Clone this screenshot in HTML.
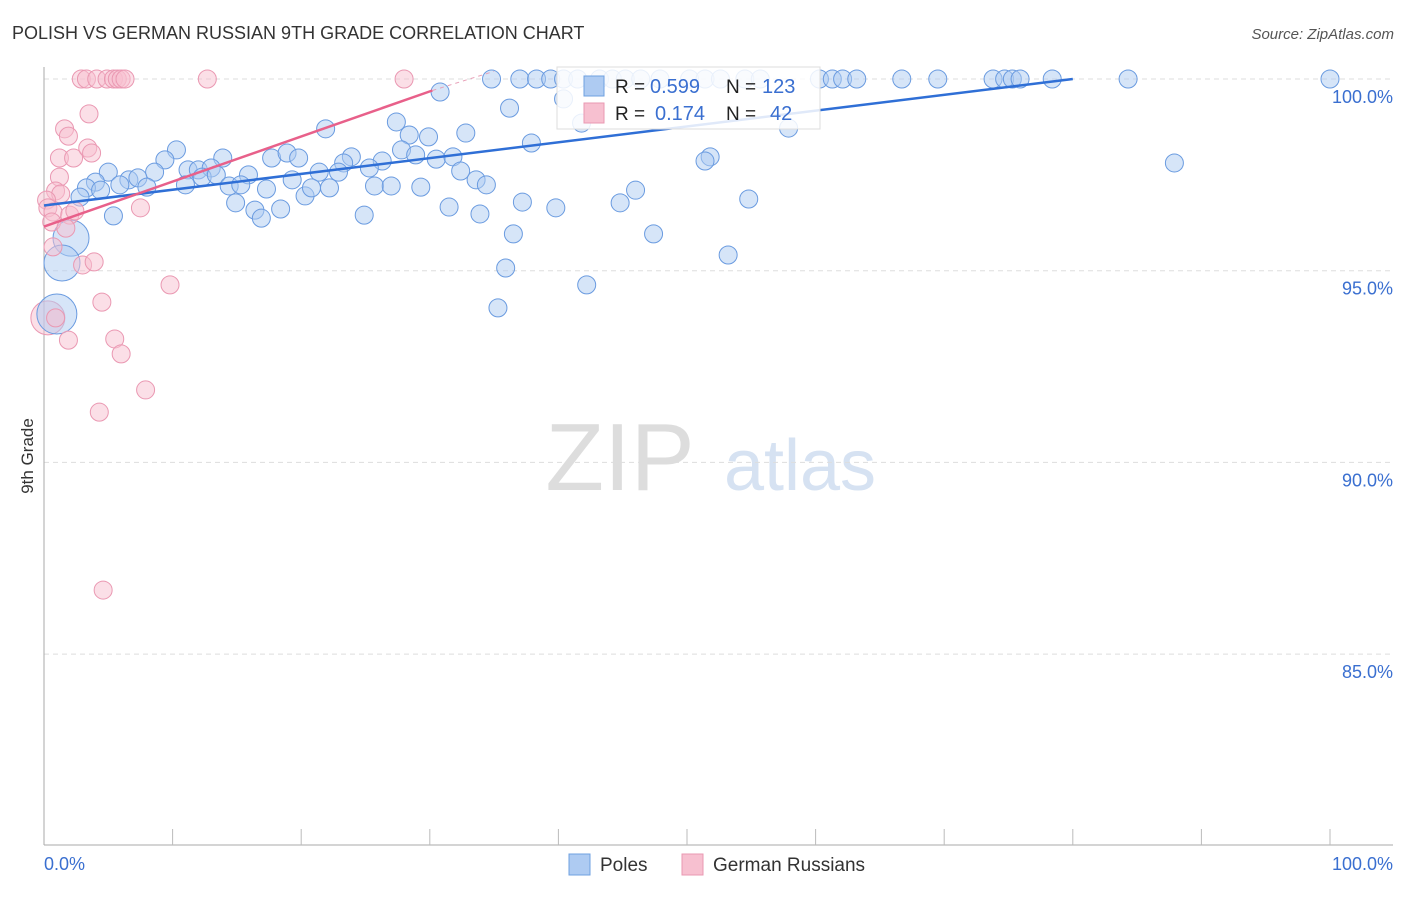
<!DOCTYPE html>
<html><head><meta charset="utf-8"><style>
body{margin:0;background:#fff;font-family:"Liberation Sans",sans-serif;}
svg text{font-family:"Liberation Sans",sans-serif;}
</style></head><body>
<svg id="chart" width="1406" height="892">
<text x="12" y="39" font-size="18" fill="#333">POLISH VS GERMAN RUSSIAN 9TH GRADE CORRELATION CHART</text>
<text x="1394" y="39" font-size="15" fill="#555" text-anchor="end" font-style="italic">Source: ZipAtlas.com</text>
<text x="33" y="456" font-size="17" fill="#333" transform="rotate(-90 33 456)" text-anchor="middle">9th Grade</text>
<text x="620" y="490" font-size="96" fill="#ddd" font-family="Liberation Serif" text-anchor="middle">ZIP</text>
<text x="800" y="490" font-size="72" fill="#d6e2f2" text-anchor="middle">atlas</text>
<g id="grid"></g><g id="pts"></g><g id="trend"></g>
<g>
<rect x="557" y="67" width="263" height="62" fill="#fff" fill-opacity="0.85" stroke="#ddd"/>
<rect x="584" y="76" width="20" height="20" fill="#aecbf2" stroke="#6fa0e0"/>
<rect x="584" y="103" width="20" height="20" fill="#f7c0d0" stroke="#ea98b2"/>
<text x="615" y="93" font-size="19" fill="#222">R =</text>
<text x="650" y="93" font-size="20" fill="#3a6fd0">0.599</text>
<text x="726" y="93" font-size="19" fill="#222">N =</text>
<text x="762" y="93" font-size="20" fill="#3a6fd0">123</text>
<text x="615" y="120" font-size="19" fill="#222">R =</text>
<text x="655" y="120" font-size="20" fill="#3a6fd0">0.174</text>
<text x="726" y="120" font-size="19" fill="#222">N =</text>
<text x="770" y="120" font-size="20" fill="#3a6fd0">42</text>
</g>
<g>
<rect x="569" y="854" width="21" height="21" fill="#aecbf2" stroke="#6fa0e0"/>
<text x="600" y="871" font-size="19" fill="#333">Poles</text>
<rect x="682" y="854" width="21" height="21" fill="#f7c0d0" stroke="#ea98b2"/>
<text x="713" y="871" font-size="19" fill="#333">German Russians</text>
</g>
</svg>
<script>
const yTicks=[100,95,90,85];
const xLabels=["0.0%","100.0%"];
const bluePts=[[34.8,100],[37.0,100],[38.3,100],[39.4,100],[40.4,100],[41.5,100],[43.2,100],[44.2,100],[45.2,100],[46.4,100],[47.9,100],[50.2,100],[51.4,100],[52.6,100],[54.5,100],[55.7,100],[60.3,100],[61.3,100],[62.1,100],[63.2,100],[66.7,100],[69.5,100],[73.8,100],[74.7,100],[75.3,100],[75.9,100],[78.4,100],[84.3,100],[100,100],
[30.8,99.66],[40.4,99.48],[36.2,99.24],[27.4,98.88],[21.9,98.70],[28.4,98.54],[29.9,98.49],[32.8,98.59],[37.9,98.33],[10.3,98.15],[27.8,98.15],[9.4,97.89],[13.9,97.94],[17.7,97.94],[18.9,98.07],[19.8,97.94],[23.9,97.97],[23.3,97.81],[26.3,97.86],[28.9,98.02],[30.5,97.91],[31.8,97.97],[51.8,97.97],[51.4,97.86],[57.9,98.72],[87.9,97.81],[41.8,98.85],
[8.6,97.57],[11.2,97.63],[12.0,97.63],[13.0,97.68],[12.3,97.44],[13.4,97.50],[15.9,97.50],[21.4,97.57],[22.9,97.57],[25.3,97.68],[32.4,97.60],[33.6,97.37],[34.4,97.24],[5.0,97.57],[6.6,97.37],[7.3,97.42],[4.0,97.31],[3.3,97.16],[4.4,97.10],[5.9,97.24],[8.0,97.18],[11.0,97.24],[14.4,97.21],[15.3,97.24],[17.3,97.13],[19.3,97.37],[20.3,96.95],[20.8,97.16],[22.2,97.16],[25.7,97.21],[27.0,97.21],[29.3,97.18],[46.0,97.10],[44.8,96.77],[54.8,96.87],[14.9,96.77],[16.4,96.58],[16.9,96.37],[18.4,96.61],[24.9,96.45],[31.5,96.66],[33.9,96.48],[37.2,96.79],[39.8,96.64],[36.5,95.96],[47.4,95.96],[5.4,96.43],[2.8,96.92],[35.9,95.07],[42.2,94.63],[53.2,95.41],[35.3,94.03]];
const blueBig=[[2.1,95.85,18],[1.4,95.20,18],[1.0,93.87,20]];
const pinkPts=[[2.9,100],[3.3,100],[4.1,100],[4.9,100],[5.4,100],[5.7,100],[6.0,100],[6.3,100],[12.7,100],[28.0,100],[3.5,99.09],[1.6,98.70],[1.9,98.51],[1.2,97.94],[2.3,97.94],[3.4,98.20],[3.7,98.07],[1.2,97.44],[0.9,97.08],[1.3,97.00],[0.2,96.84],[0.3,96.64],[0.7,96.53],[0.6,96.27],[2.0,96.45],[2.4,96.56],[7.5,96.64],[1.7,96.11],[0.7,95.62],[3.0,95.15],[3.9,95.23],[9.8,94.63],[4.5,94.18],[0.9,93.77],[1.9,93.19],[5.5,93.22],[6.0,92.83],[7.9,91.89],[4.3,91.31],[4.6,86.67]];
const pinkBig=[[0.3,93.77,17]];
const blueTrend=[[0,96.7],[80,100]];
const pinkTrend=[[0,96.15],[30.2,99.7]];
const pinkDash=[[30.2,99.7],[35,100.2]];
const NS="http://www.w3.org/2000/svg";
const X=v=>44+v*12.86, Y=v=>79+(100-v)*38.34;
function mk(tag,attrs,parent){const e=document.createElementNS(NS,tag);for(const k in attrs)e.setAttribute(k,attrs[k]);document.getElementById(parent).appendChild(e);return e;}
yTicks.forEach(t=>{
 const l=mk('line',{x1:44,x2:1393,y1:Y(t),y2:Y(t),stroke:'#ddd','stroke-dasharray':'5,4'},'grid');
 
 
 const tx=mk('text',{x:1393,y:Y(t)+24,'text-anchor':'end','font-size':18,fill:'#3a6fd0'},'grid');
 tx.textContent=t.toFixed(1)+'%';
 
 
});
let ax=mk('line',{x1:44,x2:44,y1:67,y2:845,stroke:'#aaa'},'grid');


let bx=mk('line',{x1:44,x2:1393,y1:845,y2:845,stroke:'#aaa'},'grid');


for(let i=1;i<=10;i++){const t=mk('line',{x1:X(i*10),x2:X(i*10),y1:829,y2:845,stroke:'#bbb'},'grid');
 
 }
[[0,'start',xLabels[0]],[100,'end',xLabels[1]]].forEach(([v,a,s])=>{const t=mk('text',{x:v===0?44:1393,y:870,'text-anchor':a,'font-size':18,fill:'#3a6fd0'},'grid');t.textContent=s;
 
 });
function dot(p,r,fill,stroke,name){const c=mk('circle',{cx:X(p[0]),cy:Y(p[1]),r:r,fill:fill,'fill-opacity':0.5,stroke:stroke,'stroke-width':1},'pts');
 
 }
pinkBig.forEach(p=>dot(p,p[2],'#f7c0d0','#ea98b2','german-russians-point'));
blueBig.forEach(p=>dot(p,p[2],'#aecbf2','#6a9be0','poles-point'));
bluePts.forEach(p=>dot(p,9,'#aecbf2','#6a9be0','poles-point'));
pinkPts.forEach(p=>dot(p,9,'#f7c0d0','#ea98b2','german-russians-point'));
function ln(a,col,w,dash,name){const l=mk('line',{x1:X(a[0][0]),y1:Y(a[0][1]),x2:X(a[1][0]),y2:Y(a[1][1]),stroke:col,'stroke-width':w},'trend');if(dash)l.setAttribute('stroke-dasharray',dash);
 
 }
ln(blueTrend,'#2f6fd6',2.5,null,'poles-trendline');
ln(pinkTrend,'#e8608a',2.5,null,'german-russians-trendline');
ln(pinkDash,'#e8a0b8',1,'4,4','german-russians-trend-extension');
</script>
</body></html>
